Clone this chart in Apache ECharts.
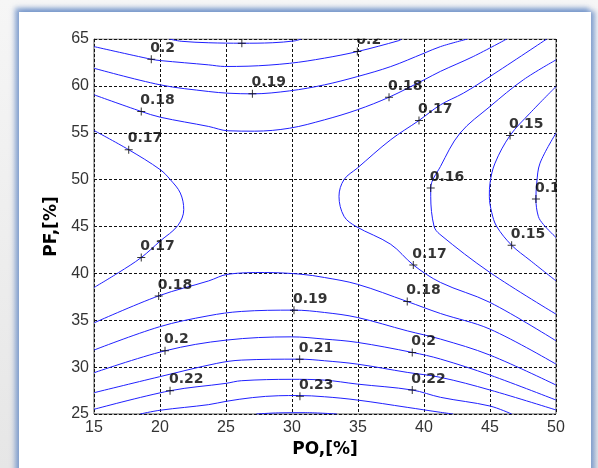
<!DOCTYPE html>
<html>
<head>
<meta charset="utf-8">
<script src="https://cdn.jsdelivr.net/npm/echarts@6/dist/echarts.min.js"></script>
<style>
	body{
		margin: 0;
		width: 598px;
		height: 468px;
		overflow: hidden;
		background: linear-gradient(#f6f6f6, #e6e6e6);
	}
	.panel{
		position: absolute;
		left: 19px;
		top: 12px;
		width: 572px;
		height: 480px;
		background: #ffffff;
		box-shadow: -3px -3px 5px 1px rgba(110,145,200,0.8), 3px 0px 5px 1px rgba(110,145,200,0.8);
	}
	#main{
		position: absolute;
		left: 0;
		top: 0;
		width: 598px;
		height: 468px;
	}
</style>
</head>
<body>
<div class="panel"></div>
<div id="main"></div>
<script>
	// contour lines, [PO %, PF %]
	var line021top = [[20.7,65],[21.6,64.76],[23.7,64.6],[26.2,64.55],[28.5,64.6],[30.2,64.8],[30.7,65]];
	var line020top = [[15,64.19],[19.34,62.84],[20.02,62.7],[23.69,62.24],[24.9,62.07],[26.67,62.1],[29.83,62.41],[32.46,62.96],[34.95,63.66],[38.1,64.83],[38.3,65]];
	var line019top = [[15,61.88],[20.02,60.11],[23.69,59.4],[25.15,59.22],[27,59.15],[29.83,59.47],[32.46,60.11],[34.95,60.99],[37.48,62.06],[40,63.48],[41.25,64.19],[43.3,65]];
	var line018top = [[15,59.05],[18.58,57.27],[20.02,56.66],[23.69,55.67],[25.15,55.21],[27.17,55.17],[29.83,55.49],[32.46,56.38],[34.95,57.45],[37.35,58.79],[40,60.64],[41.25,61.55],[43.73,63.13],[46.27,65]];
	var line017left = [[15,55.24],[17.63,53.19],[20.02,51.06],[20.78,50],[21.54,48.57],[21.8,46.8],[21.35,45.1],[20.02,43.46],[18.58,41.69],[16.87,40.09],[15,38.49]];
	var line017right = [[49.3,65],[45,61],[42.98,59.22],[41.25,57.98],[39.62,56.31],[37.48,54.26],[34.95,51.23],[33.94,50],[33.56,48.22],[33.94,46.09],[34.83,45.02],[37.48,43.1],[39.19,40.9],[41.25,39.03],[45,36.9],[50,32.81]];
	var line016 = [[50,62.77],[47.52,60.64],[45,57.8],[42.73,54.96],[41.25,51.41],[40.51,49.1],[40.51,48.22],[40.76,45.02],[41.2,44.17],[45,40.09],[50,35.65]];
	var line015 = [[50,59.93],[48.03,57.09],[46.52,54.71],[45.38,51.76],[45,49.63],[44.95,48.22],[45.13,46.5],[45.5,45.02],[46.64,43.0],[48.03,41.4],[50,39.2]];
	var line014 = [[50,54.96],[48.79,51.76],[48.54,49.63],[48.48,47.93],[48.66,46.09],[49.04,45.23],[50,43.82]];
	var line018bot = [[15,34.72],[19.9,37.6],[23.69,39.2],[25.15,39.91],[27.93,40.09],[30.68,39.91],[32.46,39.56],[34.95,38.84],[38.73,37],[41.25,35.72],[45,34.05],[50,30.32]];
	var line019bot = [[15,31.82],[19.95,34.3],[23.64,35.47],[26.16,35.94],[30.15,36.08],[32.46,35.83],[34.95,35.3],[38.73,33.87],[41.25,32.99],[45,31.28],[50,28.09]];
	var line020bot = [[15,29.4],[20.38,31.74],[25,32.88],[29.95,33.23],[32.46,32.99],[34.95,32.64],[39.11,31.57],[41.25,30.86],[45,29.15],[50,26.49]];
	var line021bot = [[15,27.27],[19.95,28.97],[24.3,30.4],[26.16,30.75],[30.58,30.85],[32.46,30.68],[34.95,30.32],[38.73,29.44],[41.25,28.91],[45,27.56],[50,25.43]];
	var line022bot = [[15,25.5],[20.76,27.48],[25,28.27],[26.16,28.55],[29.95,28.7],[32.42,28.62],[34.95,28.19],[39.11,27.56],[41.25,26.78],[45,25.85],[46.64,25]];
	var line023bot = [[18.5,25],[20,25.4],[23.69,26.0],[25,26.35],[27,26.75],[29,26.95],[30.5,26.97],[32.46,26.84],[34.95,26.49],[38.73,25.71],[41.25,25.18],[42.2,25]];
	var line024bot = [[27.3,25],[29,25.12],[31,25.14],[33.4,25]];

	// clabel "+" marks with their level text
	var labelPts = [
		[19.34,62.84,'0.2'],[34.95,63.66,'0.2'],[26.2,64.56,'0.21'],
		[27,59.15,'0.19'],
		[18.58,57.27,'0.18'],[37.35,58.79,'0.18'],
		[17.63,53.19,'0.17'],[39.62,56.31,'0.17'],
		[46.52,54.71,'0.15'],[46.64,43.0,'0.15'],
		[40.51,49.1,'0.16'],[48.48,47.93,'0.14'],
		[18.58,41.69,'0.17'],[39.19,40.9,'0.17'],
		[19.9,37.6,'0.18'],[38.73,37,'0.18'],
		[30.15,36.08,'0.19'],
		[20.38,31.74,'0.2'],[39.11,31.57,'0.2'],
		[30.58,30.85,'0.21'],
		[20.76,27.48,'0.22'],[39.11,27.56,'0.22'],
		[30.6,26.9,'0.23']
	];

	var contourLines = [line021top,line020top,line019top,line018top,line017left,line017right,line016,line015,line014,
		line018bot,line019bot,line020bot,line021bot,line022bot,line023bot,line024bot];

	var series = [];
	for(var i=0;i<contourLines.length;i++){
		series.push({
			type:'line',
			data:contourLines[i],
			showSymbol:false,
			smooth:0.35,
			silent:true,
			lineStyle:{color:'#2020ff',width:1}
		});
	}
	series.push({
		type:'scatter',
		data:labelPts,
		symbol:'path://M0,3.5H8V4.5H0ZM3.5,0H4.5V8H3.5Z',
		symbolSize:8,
		itemStyle:{color:'#000'},
		label:{
			show:true,
			formatter:function(p){ return p.data[2]; },
			position:[3,-7],
			align:'left',
			verticalAlign:'middle',
			fontFamily:'DejaVu Sans',
			fontWeight:'bold',
			fontSize:14,
			color:'#000'
		},
		z:3
	});

	var mychart = echarts.init(document.getElementById('main'));
	mychart.setOption({
		animation:false,
		grid:{
			left:94,
			top:39,
			right:42,
			bottom:54,
			show:true,
			borderColor:'#555',
			borderWidth:1
		},
		xAxis:{
			type:'value',
			min:15,
			max:50,
			interval:5,
			name:'PO,[%]',
			nameLocation:'middle',
			nameGap:17,
			nameTextStyle:{fontFamily:'DejaVu Sans',fontWeight:'bold',fontSize:17,color:'#000'},
			axisLine:{show:false},
			axisTick:{show:false},
			axisLabel:{margin:6,fontFamily:'Liberation Sans',fontSize:16,color:'#333'},
			splitLine:{show:true,lineStyle:{color:'#111',type:[3,2],width:1}}
		},
		yAxis:{
			type:'value',
			min:25,
			max:65,
			interval:5,
			name:'PF,[%]',
			nameLocation:'middle',
			nameRotate:90,
			nameGap:27,
			nameTextStyle:{fontFamily:'DejaVu Sans',fontWeight:'bold',fontSize:17,color:'#000'},
			axisLine:{show:false},
			axisTick:{show:false},
			axisLabel:{margin:5,fontFamily:'Liberation Sans',fontSize:16,color:'#333'},
			splitLine:{show:true,lineStyle:{color:'#111',type:[3,2],width:1}}
		},
		graphic:[
			// hide label parts that fall outside the axes, like clabel does
			{type:'rect',z:100,shape:{x:95,y:14,width:461,height:24.5},style:{fill:'#fff'}},
			{type:'rect',z:100,shape:{x:557,y:39,width:28,height:375},style:{fill:'#fff'}}
		],
		series:series
	});
</script>
</body>
</html>
